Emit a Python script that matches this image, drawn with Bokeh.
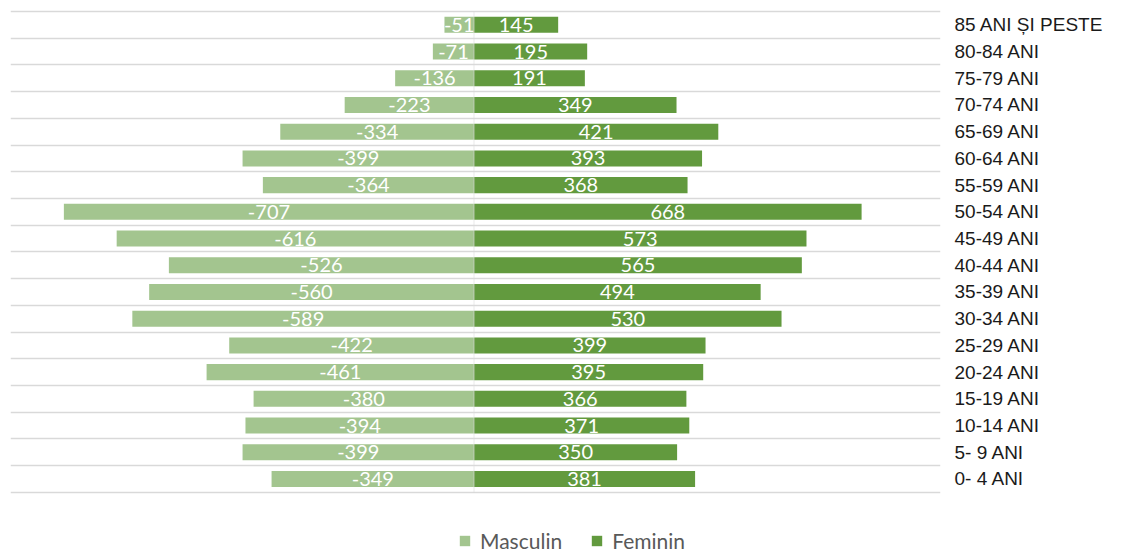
from bokeh.plotting import figure
from bokeh.models import (ColumnDataSource, Range1d, LinearAxis, FixedTicker, Grid,
                          BoxAnnotation, Legend, LegendItem)
from bokeh.core.properties import value
from bokeh.embed import file_html
from bokeh.resources import INLINE

# Data (bottom to top)
age_groups = ["0- 4 ANI", "5- 9 ANI", "10-14 ANI", "15-19 ANI", "20-24 ANI", "25-29 ANI",
              "30-34 ANI", "35-39 ANI", "40-44 ANI", "45-49 ANI", "50-54 ANI", "55-59 ANI",
              "60-64 ANI", "65-69 ANI", "70-74 ANI", "75-79 ANI", "80-84 ANI", "85 ANI ȘI PESTE"]
masculin = [-349, -399, -394, -380, -461, -422, -589, -560, -526, -616, -707, -364,
            -399, -334, -223, -136, -71, -51]
feminin = [381, 350, 371, 366, 395, 399, 530, 494, 565, 573, 668, 368,
           393, 421, 349, 191, 195, 145]

C_M = "#A3C58F"
C_F = "#629A3E"

n = len(age_groups)
ys = list(range(n))
src_m = ColumnDataSource(dict(y=ys, v=masculin, mid=[v / 2 for v in masculin],
                              lab=[str(v) for v in masculin]))
src_f = ColumnDataSource(dict(y=ys, v=feminin, mid=[v / 2 for v in feminin],
                              lab=[str(v) for v in feminin]))

p = figure(width=1142, height=553, output_backend="svg", toolbar_location=None,
           x_range=Range1d(-799, 804), y_range=Range1d(-2.79, n - 1 + 0.612),
           x_axis_location=None, y_axis_location=None,
           min_border_left=10, min_border_top=8, min_border_right=202, min_border_bottom=0)
p.outline_line_color = None
p.grid.visible = False

grid = Grid(dimension=1, ticker=FixedTicker(ticks=[i - 0.5 for i in range(n + 1)]),
            grid_line_color="#D9D9D9", grid_line_width=1.5)
p.add_layout(grid)

r_m = p.hbar(y="y", left=0, right="v", height=0.6, source=src_m, fill_color=C_M, line_color=None)
r_f = p.hbar(y="y", left=0, right="v", height=0.6, source=src_f, fill_color=C_F, line_color=None)

# zero (category) axis line, limited to the category band
p.add_layout(BoxAnnotation(left=0, right=0, bottom=-0.5, top=n - 0.5, fill_alpha=0,
                           line_color="#D9D9D9", line_width=2))

for src in (src_m, src_f):
    p.text(x="mid", y="y", text="lab", source=src, text_color="white",
           text_font=value("Lato"), text_font_size="20px",
           text_align="center", text_baseline="middle")

yaxis = LinearAxis(ticker=FixedTicker(ticks=ys),
                   major_label_overrides={i: lab for i, lab in enumerate(age_groups)})
yaxis.axis_line_color = None
yaxis.major_tick_line_color = None
yaxis.minor_tick_line_color = None
yaxis.major_tick_out = 0
yaxis.major_tick_in = 0
yaxis.major_label_standoff = 14
yaxis.major_label_text_font = "Liberation Sans"
yaxis.major_label_text_font_size = "19px"
yaxis.major_label_text_color = "#1a1a1a"
p.add_layout(yaxis, "right")

legend = Legend(items=[LegendItem(label="Masculin", renderers=[r_m]),
                       LegendItem(label="Feminin", renderers=[r_f])],
                orientation="horizontal", location=(448, 0), margin=0,
                label_text_font="Lato", label_text_font_size="21px",
                label_text_color="#595959", glyph_width=13, glyph_height=13,
                label_standoff=9, spacing=28, padding=0,
                border_line_color=None, background_fill_alpha=0)
p.add_layout(legend)

open("out.html", "w").write(file_html(p, INLINE))
